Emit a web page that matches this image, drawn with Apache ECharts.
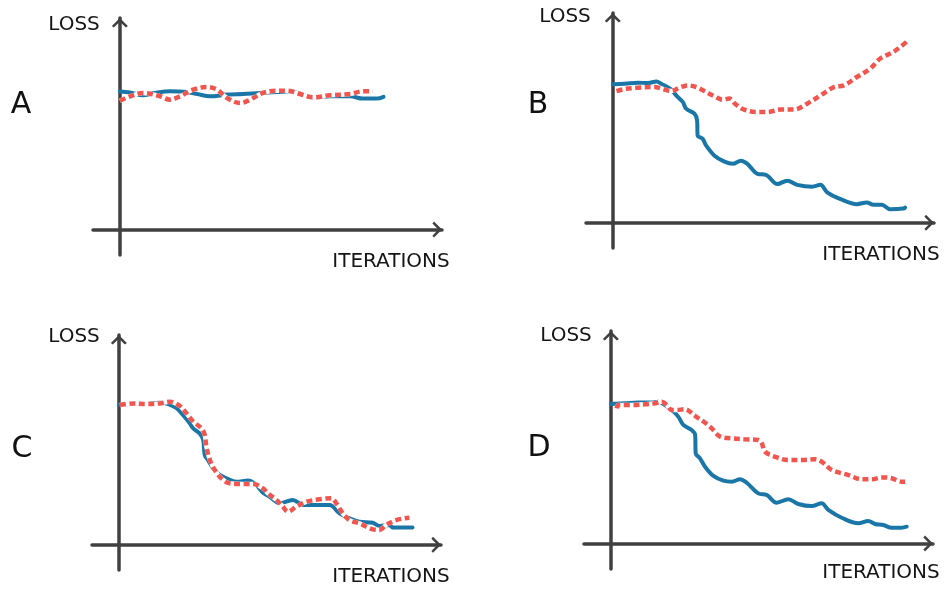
<!DOCTYPE html>
<html>
<head>
<meta charset="utf-8">
<script src="https://cdn.jsdelivr.net/npm/echarts@6/dist/echarts.min.js"></script>
<style>html,body{margin:0;padding:0;background:#fff}#c{width:945px;height:589px}</style>
</head>
<body>
<div id="c"></div>
<script>
// ---------- data (x = iterations, y = loss) ----------
var panelLetters = ['A', 'B', 'C', 'D'];
var yAxisName = 'LOSS';
var xAxisName = 'ITERATIONS';

var aBlue = [[0,0.653],[3.8,0.648],[8.6,0.635],[12.4,0.644],[18.7,0.654],[25.0,0.650],[28.8,0.641],[33.6,0.630],[39.9,0.638],[45.9,0.641],[52.2,0.646],[58.5,0.650],[63.4,0.654],[68.2,0.638],[72.0,0.625],[78.3,0.630],[85.8,0.630],[90.6,0.619],[95.8,0.619],[98.2,0.627]];
var aRed = [[0,0.609],[3.8,0.630],[8.6,0.646],[15.0,0.630],[18.7,0.614],[22.4,0.630],[27.3,0.661],[32.5,0.674],[36.2,0.661],[39.9,0.622],[44.8,0.598],[48.5,0.614],[53.3,0.646],[58.5,0.656],[62.3,0.656],[67.1,0.641],[72.0,0.625],[78.3,0.635],[85.8,0.641],[90.6,0.654],[94.3,0.654]];

var bBlue = [[0,0.660],[4.5,0.663],[9.4,0.668],[13.2,0.666],[16.3,0.674],[18.1,0.663],[21.9,0.635],[23.7,0.607],[26.2,0.575],[27.4,0.544],[30.5,0.520],[31.5,0.488],[31.7,0.416],[33.6,0.400],[34.9,0.368],[38.0,0.320],[41.7,0.292],[44.8,0.281],[47.9,0.296],[50.3,0.281],[54.1,0.233],[57.2,0.229],[61.5,0.185],[65.2,0.201],[68.9,0.181],[74.5,0.172],[77.6,0.181],[80.1,0.145],[85.1,0.113],[91.2,0.089],[94.9,0.097],[97.4,0.086],[100.5,0.086],[103.6,0.065],[108.6,0.068],[109.2,0.073]];
var bRed = [[1.4,0.628],[4.5,0.638],[9.4,0.644],[15.7,0.647],[18.1,0.640],[21.9,0.628],[24.9,0.644],[28.0,0.655],[31.2,0.647],[34.2,0.628],[38.0,0.603],[41.0,0.587],[43.5,0.592],[46.0,0.564],[49.1,0.539],[54.1,0.528],[57.8,0.528],[62.8,0.540],[67.7,0.540],[72.6,0.568],[77.6,0.607],[82.6,0.647],[86.3,0.655],[91.2,0.695],[96.2,0.735],[99.9,0.783],[104.9,0.815],[109.8,0.863]];

var cBlue = [[0,0.666],[4.1,0.671],[9.1,0.671],[15.3,0.677],[18.4,0.671],[21.5,0.651],[23.9,0.619],[26.4,0.579],[27.7,0.555],[30.1,0.531],[31.4,0.500],[32.0,0.428],[33.2,0.404],[35.1,0.365],[37.6,0.333],[40.1,0.317],[43.8,0.301],[48.1,0.306],[51.2,0.285],[53.7,0.248],[56.2,0.229],[59.9,0.198],[64.8,0.214],[68.6,0.190],[73.5,0.190],[78.5,0.190],[82.2,0.150],[85.9,0.126],[89.6,0.110],[94.6,0.105],[97.1,0.090],[100.8,0.094],[102.0,0.083],[107.0,0.082],[109.4,0.083]];
var cRed = [[0.4,0.666],[5.4,0.674],[10.3,0.671],[15.3,0.674],[19.0,0.682],[22.7,0.662],[25.2,0.627],[27.7,0.587],[30.8,0.555],[32.0,0.523],[32.6,0.468],[33.9,0.404],[35.7,0.357],[38.2,0.317],[41.3,0.293],[46.2,0.290],[50.0,0.290],[53.7,0.269],[55.5,0.245],[58.7,0.214],[61.1,0.182],[63.0,0.158],[66.1,0.182],[69.8,0.205],[74.8,0.217],[79.1,0.222],[81.0,0.198],[83.4,0.150],[85.9,0.118],[89.6,0.102],[94.6,0.074],[97.1,0.071],[99.5,0.094],[103.3,0.118],[108.2,0.129]];

var dBlue = [[0,0.656],[5.3,0.660],[10.2,0.664],[15.2,0.663],[17.7,0.667],[19.6,0.656],[22.7,0.628],[25.1,0.597],[27.0,0.558],[30.1,0.534],[31.4,0.511],[31.6,0.424],[33.2,0.401],[35.1,0.361],[38.2,0.318],[41.9,0.296],[45.0,0.291],[48.1,0.302],[50.6,0.286],[54.9,0.236],[58.1,0.228],[61.8,0.192],[66.1,0.208],[69.8,0.186],[74.8,0.176],[78.5,0.189],[81.0,0.158],[86.0,0.121],[92.2,0.095],[95.9,0.106],[98.4,0.092],[101.5,0.087],[104.6,0.074],[108.3,0.074],[110.2,0.079]];
var dRed = [[2.2,0.636],[2.8,0.652],[7.8,0.652],[12.7,0.655],[16.5,0.660],[19.0,0.667],[20.8,0.652],[22.7,0.628],[24.5,0.628],[27.6,0.632],[31.4,0.600],[35.1,0.568],[37.6,0.542],[40.7,0.503],[45.0,0.495],[50.0,0.490],[54.9,0.487],[56.2,0.472],[57.4,0.432],[61.2,0.408],[66.1,0.393],[71.1,0.393],[76.1,0.396],[78.5,0.385],[82.3,0.346],[88.5,0.322],[93.4,0.302],[97.2,0.302],[100.9,0.311],[104.6,0.307],[108.3,0.291],[109.6,0.291]];

var blueSeries = [aBlue, bBlue, cBlue, dBlue];
var redSeries = [aRed, bRed, cRed, dRed];

// ---------- layout / style ----------
var grids = [
  {left: 93, top: 18, width: 349, height: 237},
  {left: 586, top: 13, width: 348, height: 235},
  {left: 92, top: 335, width: 349, height: 235},
  {left: 584, top: 331, width: 349, height: 238}
];
var lossPos = [[74, 25], [565, 17], [74, 337], [566, 336]];
var iterPos = [[391, 262], [881, 255], [391, 577], [881, 573]];
var letterPos = [[21, 105], [538, 105], [22, 449], [539, 448]];

var AXIS = '#404040', BLUE = '#1b76a8', RED = '#f2544e';
var FONT = '"DejaVu Sans", sans-serif';
var chevron = 'path://M10,0L20,10L17.6,12L10,4.6L2.4,12L0,10Z';

function axisCommon() {
  return {
    type: 'value', min: 0, max: 0, splitLine: {show: false},
    axisTick: {show: false}, axisLabel: {show: false},
    axisLine: {show: true, onZero: true, symbol: ['none', chevron], symbolSize: [16, 9.6], symbolOffset: [0, -4.8],
      lineStyle: {color: AXIS, width: 3.5, cap: 'round'}}
  };
}

var xAxes = [], yAxes = [], series = [], graphics = [];
for (var i = 0; i < 4; i++) {
  var xa = axisCommon(); xa.min = -10; xa.max = 120; xa.gridIndex = i;
  var ya = axisCommon(); ya.min = -0.12; ya.max = 1.0; ya.gridIndex = i;
  xAxes.push(xa); yAxes.push(ya);
  series.push({type: 'line', xAxisIndex: i, yAxisIndex: i, data: blueSeries[i], showSymbol: false, smooth: 0.35,
    lineStyle: {color: BLUE, width: 4, cap: 'round', join: 'round'}, silent: true, z: 2});
  series.push({type: 'line', xAxisIndex: i, yAxisIndex: i, data: redSeries[i], showSymbol: false, smooth: 0.35,
    lineStyle: {color: '#ffffff', width: 4.5, cap: 'butt', join: 'round'}, silent: true, z: 3});
  series.push({type: 'line', xAxisIndex: i, yAxisIndex: i, data: redSeries[i], showSymbol: false, smooth: 0.35,
    lineStyle: {color: RED, width: 4.5, type: [6, 3.5], cap: 'butt', join: 'round'}, silent: true, z: 4});

  graphics.push({type: 'text', x: lossPos[i][0], y: lossPos[i][1], style: {text: yAxisName, fontSize: 20, fontFamily: FONT, fill: '#151515', align: 'center', verticalAlign: 'middle'}});
  graphics.push({type: 'text', x: iterPos[i][0], y: iterPos[i][1], style: {text: xAxisName, fontSize: 20, fontFamily: FONT, fill: '#151515', align: 'center', verticalAlign: 'middle'}});
  graphics.push({type: 'text', x: letterPos[i][0], y: letterPos[i][1], style: {text: panelLetters[i], fontSize: 30, fontFamily: FONT, fill: '#111111', align: 'center', verticalAlign: 'middle'}});
}

var chart = echarts.init(document.getElementById('c'), null, {renderer: 'canvas'});
chart.setOption({
  animation: false,
  backgroundColor: '#ffffff',
  grid: grids,
  xAxis: xAxes,
  yAxis: yAxes,
  series: series,
  graphic: graphics
});
</script>
</body>
</html>
